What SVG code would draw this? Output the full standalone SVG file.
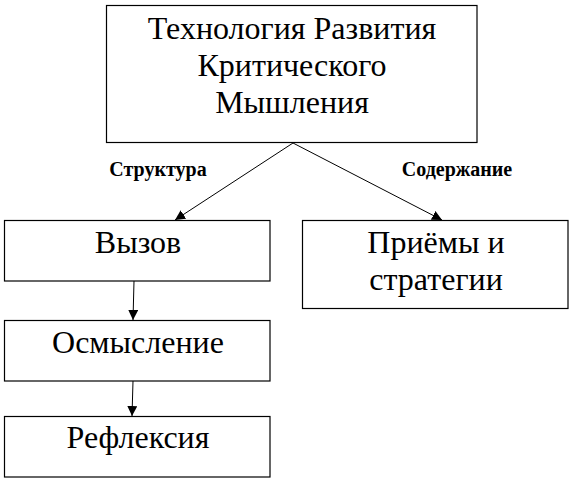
<svg xmlns="http://www.w3.org/2000/svg" width="572" height="483" viewBox="0 0 572 483">
<style>
.box{fill:#fff;stroke:#000;stroke-width:1.2}
.t{font-family:'Liberation Serif','Times New Roman',serif;font-size:32px;fill:#000;text-anchor:middle}
.lbl{font-family:'Liberation Serif','Times New Roman',serif;font-size:20px;font-weight:bold;fill:#000;text-anchor:middle}
.c{stroke:#000;stroke-width:1;fill:none;marker-end:url(#ah)}
</style>
<defs>
<marker id="ah" viewBox="0 0 10 10" refX="10" refY="5" markerWidth="10" markerHeight="10" markerUnits="userSpaceOnUse" orient="auto">
<path d="M0,0 L10,5 L0,10 Z" fill="#000"/>
</marker>
</defs>
<rect width="572" height="483" fill="#fff"/>
<g id="connectors">
<line class="c" x1="293" y1="143" x2="175" y2="220"/>
<line class="c" x1="293" y1="143" x2="442" y2="220"/>
<line class="c" x1="134" y1="281" x2="133" y2="320"/>
<line class="c" x1="133" y1="381" x2="132" y2="416"/>
</g>
<g id="labels">
<text class="lbl" x="158" y="176">Структура</text>
<text class="lbl" x="457" y="176">Содержание</text>
</g>
<g id="root">
<rect class="box" x="106.5" y="5.5" width="370.5" height="137"/>
<text class="t" x="292" y="39">Технология Развития</text>
<text class="t" x="292" y="76">Критического</text>
<text class="t" x="292" y="113">Мышления</text>
</g>
<g id="vyzov">
<rect class="box" x="4.5" y="220.5" width="265.5" height="60.5"/>
<text class="t" x="138" y="253">Вызов</text>
</g>
<g id="osmyslenie">
<rect class="box" x="4.5" y="320.5" width="265.5" height="60.5"/>
<text class="t" x="138" y="353">Осмысление</text>
</g>
<g id="refleksiya">
<rect class="box" x="4.5" y="416.5" width="265.5" height="60.5"/>
<text class="t" x="138" y="448">Рефлексия</text>
</g>
<g id="priemy">
<rect class="box" x="302.5" y="220.5" width="265.5" height="88"/>
<text class="t" x="436" y="253">Приёмы и</text>
<text class="t" x="436" y="290">стратегии</text>
</g>
</svg>
